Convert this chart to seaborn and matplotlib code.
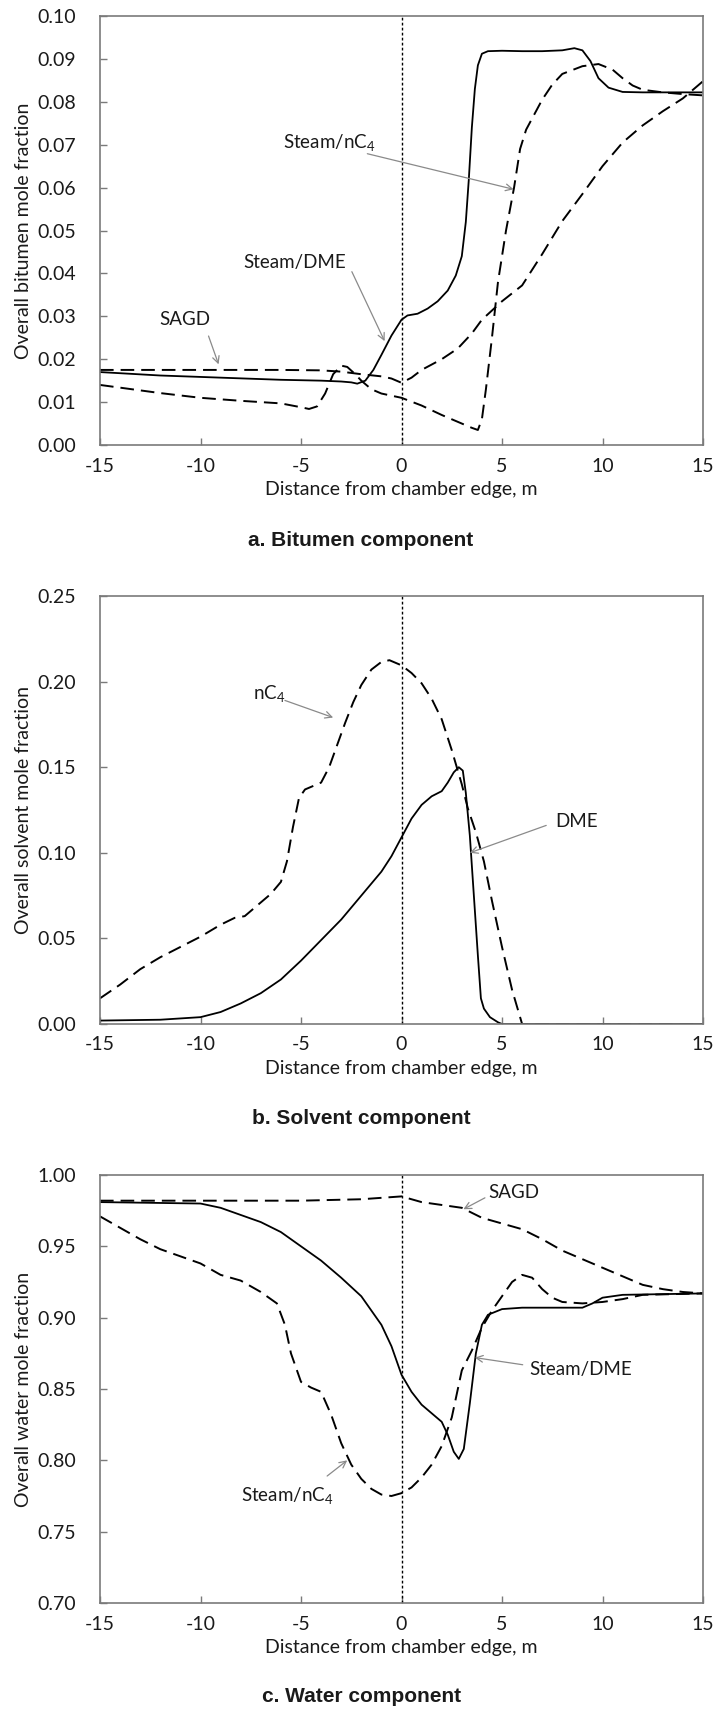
import numpy as np
import pandas as pd
import seaborn as sns
import matplotlib
matplotlib.use("Agg")
import matplotlib.pyplot as plt

# ---------------- data ----------------
X_TICKS = [-15, -10, -5, 0, 5, 10, 15]
A_YTICKS = [0.00, 0.01, 0.02, 0.03, 0.04, 0.05, 0.06, 0.07, 0.08, 0.09, 0.10]
B_YTICKS = [0.00, 0.05, 0.10, 0.15, 0.20, 0.25]
C_YTICKS = [0.70, 0.75, 0.80, 0.85, 0.90, 0.95, 1.00]

# Panel a: bitumen
A_DME_X = [-15, -12, -9, -6, -4, -3, -2.5, -2.2, -1.8, -1.4, -1.0, -0.5, 0, 0.3, 0.8, 1.3, 1.8, 2.3, 2.7,
           3.0, 3.2, 3.35, 3.5, 3.65, 3.8, 4.0, 4.3, 5, 6, 7, 8, 8.6, 9.0, 9.4, 9.8, 10.3, 11, 12, 15]
A_DME_Y = [0.0170, 0.0162, 0.0157, 0.0152, 0.0150, 0.0148, 0.0146, 0.0143, 0.0150, 0.0175, 0.0210, 0.0255,
           0.0292, 0.0302, 0.0306, 0.0318, 0.0335, 0.0360, 0.0395, 0.0440, 0.0520, 0.0620, 0.0740, 0.0830,
           0.0885, 0.0912, 0.0918, 0.0919, 0.0918, 0.0918, 0.0920, 0.0925, 0.0920, 0.0895, 0.0855, 0.0833,
           0.0823, 0.0822, 0.0822]
A_SAGD_X = [-15, -10, -6, -4, -3, -2, -1, -0.5, 0, 0.5, 1, 2, 2.8, 3.5, 4, 5, 6, 7, 8, 9, 10, 11, 12, 13, 14, 15]
A_SAGD_Y = [0.0175, 0.0175, 0.0175, 0.0174, 0.0171, 0.0165, 0.0160, 0.0155, 0.0145, 0.0157, 0.0175, 0.0200,
            0.0225, 0.0260, 0.0292, 0.0335, 0.0372, 0.0445, 0.0522, 0.0585, 0.0650, 0.0705, 0.0745, 0.0778,
            0.0808, 0.0848]
A_NC4_X = [-15, -12, -10, -8, -6, -5, -4.6, -4.2, -3.8, -3.4, -3.0, -2.7, -2.3, -2.0, -1.5, -1.0, 0, 1, 2, 3,
           3.5, 3.8, 4.0, 4.2, 4.5, 4.8, 5.2, 5.6, 5.9, 6.2, 6.6, 7.0, 7.5, 8, 9, 9.8, 10.5, 11, 11.5, 12, 13,
           14, 15]
A_NC4_Y = [0.0140, 0.0121, 0.0110, 0.0103, 0.0097, 0.0088, 0.0084, 0.0090, 0.0120, 0.0165, 0.0185, 0.0182,
           0.0165, 0.0150, 0.0130, 0.0120, 0.0110, 0.0092, 0.0070, 0.0050, 0.0040, 0.0035, 0.0060, 0.0130,
           0.0250, 0.0380, 0.0500, 0.0600, 0.0690, 0.0735, 0.0770, 0.0805, 0.0840, 0.0865, 0.0883, 0.0888,
           0.0875, 0.0855, 0.0838, 0.0828, 0.0822, 0.0818, 0.0815]

# Panel b: solvent
B_NC4_X = [-15, -14, -13, -12, -11, -10, -9, -8.3, -7.8, -7, -6.5, -6, -5.7, -5.4, -5.1, -4.8, -4.4, -4, -3.6,
           -3.2, -2.8, -2.4, -2, -1.5, -1, -0.6, 0, 0.5, 1, 1.5, 2, 2.5, 3, 3.3, 3.7, 4.1, 4.5, 5, 5.5, 6, 7, 15]
B_NC4_Y = [0.015, 0.023, 0.032, 0.039, 0.045, 0.051, 0.058, 0.062, 0.063, 0.071, 0.076, 0.083, 0.095, 0.115,
           0.132, 0.137, 0.139, 0.141, 0.150, 0.163, 0.176, 0.188, 0.198, 0.207, 0.2115, 0.2125, 0.2095, 0.205,
           0.199, 0.190, 0.178, 0.160, 0.140, 0.126, 0.112, 0.095, 0.072, 0.045, 0.020, 0.0, 0.0, 0.0]
B_DME_X = [-15, -12, -10, -9, -8, -7, -6, -5, -4, -3, -2, -1, -0.5, 0, 0.5, 1, 1.5, 2, 2.3, 2.6, 2.85, 3.05,
           3.2, 3.4, 3.6, 3.8, 3.95, 4.1, 4.4, 4.8, 5, 15]
B_DME_Y = [0.002, 0.0025, 0.004, 0.007, 0.012, 0.018, 0.026, 0.037, 0.049, 0.061, 0.075, 0.089, 0.098, 0.109,
           0.120, 0.128, 0.133, 0.136, 0.141, 0.147, 0.150, 0.148, 0.135, 0.110, 0.075, 0.040, 0.015, 0.009,
           0.004, 0.001, 0.0, 0.0]

# Panel c: water
C_SAGD_X = [-15, -10, -5, -2, 0, 1, 2, 3, 4, 5, 6, 7, 8, 9, 10, 11, 12, 13, 14, 15]
C_SAGD_Y = [0.982, 0.982, 0.982, 0.983, 0.985, 0.981, 0.979, 0.977, 0.970, 0.966, 0.962, 0.955, 0.947, 0.941,
            0.935, 0.929, 0.923, 0.920, 0.918, 0.917]
C_NC4_X = [-15, -13, -12, -10, -9, -8, -7, -6.2, -5.8, -5.5, -5, -4.5, -4, -3.5, -3, -2.5, -2, -1.5, -1, -0.5,
           0, 0.5, 1, 1.5, 2, 2.5, 3, 3.5, 4, 4.5, 5, 5.5, 6, 6.5, 7, 7.5, 8, 9, 10, 11, 12, 15]
C_NC4_Y = [0.971, 0.955, 0.948, 0.938, 0.930, 0.926, 0.918, 0.910, 0.895, 0.875, 0.855, 0.851, 0.848, 0.832,
           0.812, 0.797, 0.787, 0.780, 0.776, 0.775, 0.777, 0.781, 0.788, 0.797, 0.810, 0.830, 0.863, 0.877,
           0.893, 0.905, 0.915, 0.925, 0.930, 0.928, 0.920, 0.914, 0.911, 0.910, 0.911, 0.913, 0.916, 0.917]
C_DME_X = [-15, -10, -9, -8, -7, -6, -5, -4, -3, -2, -1, -0.5, 0, 0.5, 1, 1.5, 2, 2.3, 2.6, 2.85, 3.1, 3.4,
           3.7, 4, 4.3, 5, 6, 8, 9, 9.5, 10, 11, 15]
C_DME_Y = [0.981, 0.980, 0.977, 0.972, 0.967, 0.960, 0.950, 0.940, 0.928, 0.915, 0.895, 0.880, 0.860, 0.848,
           0.839, 0.833, 0.827, 0.818, 0.806, 0.801, 0.808, 0.840, 0.875, 0.895, 0.902, 0.906, 0.907, 0.907,
           0.907, 0.910, 0.914, 0.916, 0.917]

# ---------------- style ----------------
sns.set_theme(style="white")
plt.rcParams['font.family'] = ['Lato', 'DejaVu Sans']
plt.rcParams['mathtext.fontset'] = 'custom'
plt.rcParams['mathtext.rm'] = 'Lato'
plt.rcParams['mathtext.it'] = 'Lato:italic'

W, H = 715, 1712
fig = plt.figure(figsize=(W / 100, H / 100), dpi=100)
fig.patch.set_facecolor("white")

SPINE = "#7a7a7a"
TXT = "#1a1a1a"
ARROW = "#8a8a8a"
DASH = (0, (7.0, 3.6))


def frame(top_px, bottom_px):
    left = 100 / W
    width = 603 / W
    return [left, 1 - bottom_px / H, width, (bottom_px - top_px) / H]


def setup(ax, yticks, ylabel, title, title_y):
    ax.set_xlim(-15, 15)
    ax.set_ylim(yticks[0], yticks[-1])
    ax.set_xticks(X_TICKS)
    ax.set_xticklabels([str(t) for t in X_TICKS])
    ax.set_yticks(yticks)
    ax.set_yticklabels([f"{t:.2f}" for t in yticks])
    ax.tick_params(axis='both', direction='in', length=5, width=1, color=SPINE,
                   labelsize=14, labelcolor=TXT, left=True, bottom=True)
    ax.tick_params(axis='x', pad=9)
    ax.tick_params(axis='y', pad=17)
    for s in ax.spines.values():
        s.set_color(SPINE)
        s.set_linewidth(1.2)
    ax.set_xlabel("Distance from chamber edge, m", fontsize=14, color=TXT, labelpad=5)
    ax.set_ylabel(ylabel, fontsize=14, color=TXT, labelpad=4)
    ax.axvline(0, color="black", lw=1.0, ls=(0, (2, 1.6)), zorder=1)
    fig.text(0.505, title_y, title, ha='center', va='center', fontsize=15, fontweight='bold',
             family=['Liberation Sans', 'DejaVu Sans'], color=TXT)


def curve(ax, xs, ys, ls, lw):
    df = pd.DataFrame({"x": xs, "y": ys})
    sns.lineplot(data=df, x="x", y="y", ax=ax, color="black", lw=lw, sort=False, estimator=None)
    line = ax.get_lines()[-1]
    line.set_linestyle(ls)


def note(ax, text, txy, tail, head):
    ax.text(txy[0], txy[1], text, ha='center', va='center', fontsize=13.5, color=TXT)
    ax.annotate("", xy=head, xytext=tail,
                arrowprops=dict(arrowstyle='->', color=ARROW, lw=0.9, shrinkA=0, shrinkB=0,
                                mutation_scale=12))


# Panel a
axa = fig.add_axes(frame(16, 445))
curve(axa, A_SAGD_X, A_SAGD_Y, DASH, 1.4)
curve(axa, A_NC4_X, A_NC4_Y, DASH, 1.4)
curve(axa, A_DME_X, A_DME_Y, '-', 1.3)
setup(axa, A_YTICKS, "Overall bitumen mole fraction", "a. Bitumen component", 1 - 540 / H)
note(axa, "SAGD", (-10.8, 0.0292), (-9.6, 0.0254), (-9.1, 0.0188))
note(axa, "Steam/DME", (-5.3, 0.0425), (-2.47, 0.0404), (-0.84, 0.0242))
note(axa, r"Steam/nC$_\mathrm{4}$", (-3.6, 0.0704), (-1.7, 0.0679), (5.58, 0.0596))

# Panel b
axb = fig.add_axes(frame(596, 1024))
curve(axb, B_NC4_X, B_NC4_Y, DASH, 1.4)
curve(axb, B_DME_X, B_DME_Y, '-', 1.3)
setup(axb, B_YTICKS, "Overall solvent mole fraction", "b. Solvent component", 1 - 1119 / H)
note(axb, r"nC$_\mathrm{4}$", (-6.6, 0.193), (-5.8, 0.189), (-3.4, 0.179))
note(axb, "DME", (8.7, 0.118), (7.2, 0.116), (3.4, 0.100))

# Panel c
axc = fig.add_axes(frame(1175, 1603))
curve(axc, C_SAGD_X, C_SAGD_Y, DASH, 1.4)
curve(axc, C_NC4_X, C_NC4_Y, DASH, 1.4)
curve(axc, C_DME_X, C_DME_Y, '-', 1.3)
setup(axc, C_YTICKS, "Overall water mole fraction", "c. Water component", 1 - 1697 / H)
note(axc, "SAGD", (5.6, 0.988), (4.15, 0.984), (3.08, 0.976))
note(axc, "Steam/DME", (8.9, 0.864), (6.03, 0.867), (3.65, 0.872))
note(axc, r"Steam/nC$_\mathrm{4}$", (-5.7, 0.775), (-3.7, 0.789), (-2.7, 0.800))

fig.savefig("out.png", dpi=100, facecolor="white")
